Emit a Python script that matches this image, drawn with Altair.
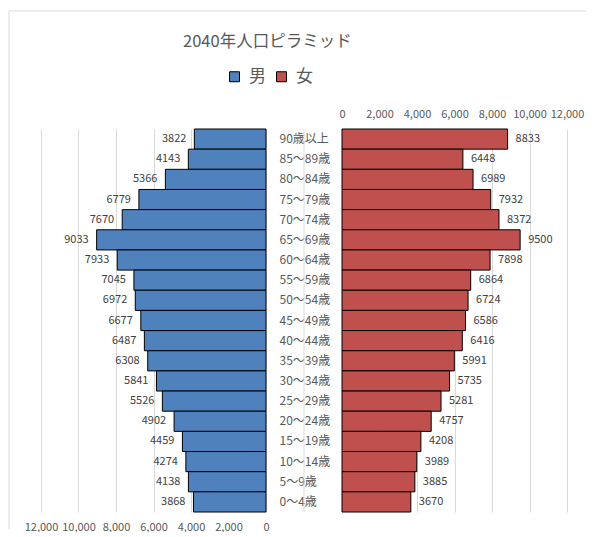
import altair as alt
import pandas as pd

ages = ["90歳以上", "85〜89歳", "80〜84歳", "75〜79歳", "70〜74歳", "65〜69歳",
        "60〜64歳", "55〜59歳", "50〜54歳", "45〜49歳", "40〜44歳", "35〜39歳",
        "30〜34歳", "25〜29歳", "20〜24歳", "15〜19歳", "10〜14歳", "5〜9歳", "0〜4歳"]
male = [3822, 4143, 5366, 6779, 7670, 9033, 7933, 7045, 6972, 6677, 6487, 6308,
        5841, 5526, 4902, 4459, 4274, 4138, 3868]
female = [8833, 6448, 6989, 7932, 8372, 9500, 7898, 6864, 6724, 6586, 6416, 5991,
          5735, 5281, 4757, 4208, 3989, 3885, 3670]
sexes = ["男", "女"]
colors = ["#4F81BD", "#C0504D"]
ticks = [0, 2000, 4000, 6000, 8000, 10000, 12000]
title_text = "2040年人口ピラミッド"

FONT = "Noto Sans CJK JP"
GRID = "#d9d9d9"
TXT = "#595959"

df_m = pd.DataFrame({"age": ages, "sex": sexes[0], "value": male})
df_f = pd.DataFrame({"age": ages, "sex": sexes[1], "value": female})
one = pd.DataFrame({"k": [0]})

W, H = 225, 383

legend = alt.Legend(orient="none", legendX=185, legendY=-61, direction="horizontal",
                    title=None, symbolType="square", symbolSize=100,
                    symbolStrokeColor="black", symbolStrokeWidth=1,
                    labelFontSize=17, labelColor=TXT, labelFont=FONT,
                    labelOffset=6, columnPadding=7)
color = alt.Color("sex:N", scale=alt.Scale(domain=sexes, range=colors), legend=legend)

y_left = alt.Y("age:N", sort=ages, scale=alt.Scale(paddingInner=0, paddingOuter=0), axis=None)
y_right = alt.Y("age:N", sort=ages, scale=alt.Scale(paddingInner=0, paddingOuter=0),
                axis=alt.Axis(orient="left", labelAlign="left", labelPadding=63, ticks=False,
                              tickSize=0, domain=False, title=None, labelFontSize=12,
                              labelColor=TXT, labelFont=FONT, labelBaseline="middle"))

xl = alt.X("value:Q", scale=alt.Scale(domain=[0, 12000], reverse=True),
           axis=alt.Axis(orient="bottom", values=ticks, format=",d", grid=True, gridColor=GRID,
                         ticks=False, tickSize=0, domain=False, labelPadding=9, title=None,
                         labelFontSize=11, labelColor=TXT, labelFont=FONT,
                         labelFlush=False, labelOverlap=False))
xr = alt.X("value:Q", scale=alt.Scale(domain=[0, 12000]),
           axis=alt.Axis(orient="top", values=ticks, format=",d", grid=True, gridColor=GRID,
                         ticks=False, tickSize=0, domain=False, labelPadding=10, title=None,
                         labelFontSize=11, labelColor=TXT, labelFont=FONT,
                         labelFlush=False, labelOverlap=False))

left_bars = alt.Chart(df_m).mark_bar(stroke="black", strokeWidth=1).encode(color=color)
left_text = alt.Chart(df_m).mark_text(align="right", baseline="middle", dx=-8, fontSize=11,
                                       font=FONT, color="#404040").encode(
    text=alt.Text("value:Q", format="d"))
left_data = alt.layer(left_bars, left_text).encode(x=xl, y=y_left)
frame_left = alt.Chart(one).mark_rule(color=GRID, strokeWidth=1).encode(
    x=alt.value(-32), y=alt.value(-118), y2=alt.value(400))
frame_top = alt.Chart(one).mark_rule(color=GRID, strokeWidth=1).encode(
    x=alt.value(-32), x2=alt.value(545), y=alt.value(-118))

left = alt.layer(left_data, frame_left, frame_top).properties(width=W, height=H)

mid_grid = alt.Chart(one).mark_rule(color=GRID, strokeWidth=1).encode(
    x=alt.value(-38), y=alt.value(0), y2=alt.value(H))
right_bars = alt.Chart(df_f).mark_bar(stroke="black", strokeWidth=1).encode(color=color)
right_text = alt.Chart(df_f).mark_text(align="left", baseline="middle", dx=8, fontSize=11,
                                        font=FONT, color="#404040").encode(
    text=alt.Text("value:Q", format="d"))
right_data = alt.layer(right_bars, right_text).encode(x=xr, y=y_right)

right = alt.layer(mid_grid, right_data).properties(width=W, height=H)

chart = alt.hconcat(left, right, spacing=76, bounds="flush").properties(
    title=alt.TitleParams(title_text, anchor="start", frame="group", dx=142, offset=-40,
                          fontSize=16.5, font=FONT, color=TXT, fontWeight="normal"),
    padding={"left": 0, "top": 2, "right": 0, "bottom": 0},
    background="white",
).configure_view(stroke=None)

chart.save("out.html", embed_options={"renderer": "svg", "actions": False})
